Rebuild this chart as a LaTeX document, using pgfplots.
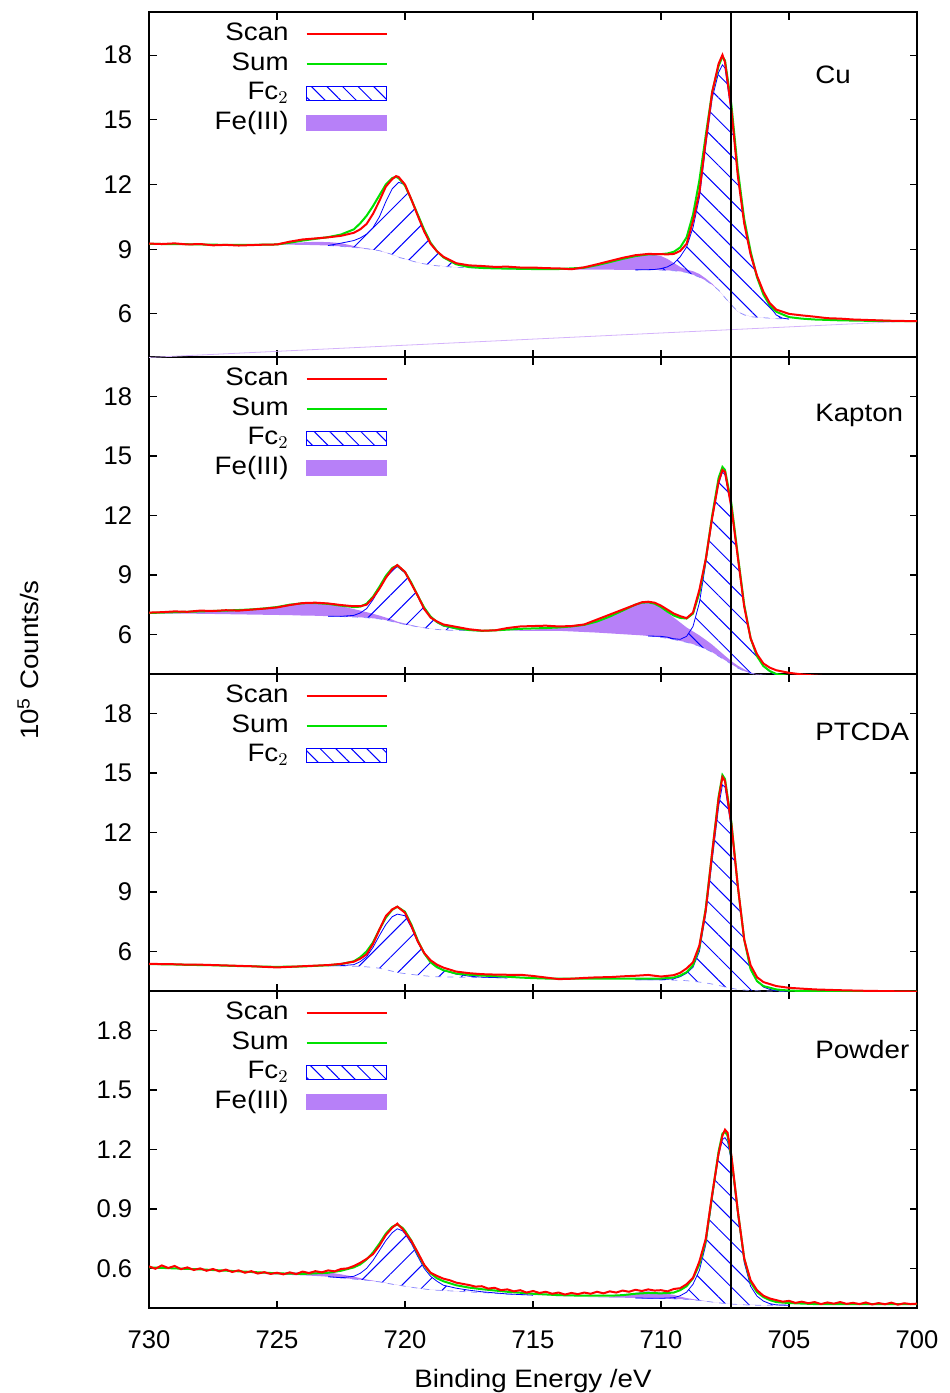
\documentclass[border=0pt]{standalone}
\usepackage{fontspec}
\setmainfont[FakeStretch=1.1]{Liberation Sans}
\newfontfamily\tickfont{Liberation Sans}
\usepackage{pgfplots}
\usepackage{pgfplotstable}
\pgfplotsset{compat=1.18}
\usepgfplotslibrary{fillbetween}
\usetikzlibrary{patterns.meta}
\definecolor{fepurple}{RGB}{183,128,248}
\definecolor{scanred}{RGB}{255,0,0}
\definecolor{sumgreen}{RGB}{0,225,0}
\definecolor{fcblue}{RGB}{0,0,255}

% ---------------- Cu ----------------
\pgfplotstableread{
E scan sum
730.0 9.26 9.25
729.5 9.24 9.24
729.0 9.27 9.24
728.5 9.22 9.23
728.0 9.24 9.22
727.5 9.18 9.21
727.0 9.20 9.20
726.5 9.17 9.20
726.0 9.19 9.20
725.5 9.21 9.21
725.0 9.22 9.22
724.5 9.35 9.30
724.0 9.45 9.40
723.5 9.50 9.48
723.0 9.55 9.56
722.5 9.62 9.68
722.0 9.76 9.92
721.75 9.92 10.20
721.5 10.17 10.55
721.25 10.64 11.00
721.0 11.24 11.50
720.75 11.90 12.00
720.5 12.25 12.30
720.35 12.39 12.35
720.25 12.35 12.30
720.0 12.00 11.95
719.75 11.30 11.30
719.5 10.55 10.60
719.25 9.82 9.90
719.0 9.25 9.30
718.75 8.90 8.90
718.5 8.65 8.62
718.0 8.35 8.30
717.5 8.25 8.17
717.0 8.22 8.13
716.5 8.18 8.11
716.0 8.19 8.10
715.5 8.15 8.09
715.0 8.15 8.08
714.5 8.12 8.08
714.0 8.11 8.08
713.5 8.07 8.11
713.0 8.16 8.14
712.5 8.30 8.26
712.0 8.45 8.40
711.5 8.60 8.55
711.0 8.72 8.68
710.5 8.78 8.76
710.0 8.77 8.77
709.75 8.76 8.80
709.5 8.78 8.88
709.25 8.92 9.08
709.0 9.25 9.55
708.75 10.30 10.60
708.5 11.65 12.20
708.25 14.06 14.30
708.0 16.28 16.30
707.75 17.60 17.50
707.6 18.01 17.93
707.5 17.67 17.75
707.25 15.45 15.70
707.0 12.41 12.70
706.75 10.20 10.40
706.5 8.76 8.90
706.25 7.77 7.70
706.0 7.03 6.90
705.75 6.50 6.40
705.5 6.20 6.10
705.0 6.00 5.85
704.5 5.93 5.78
704.0 5.87 5.74
703.5 5.80 5.72
703.0 5.78 5.70
702.5 5.74 5.69
702.0 5.72 5.68
701.5 5.70 5.67
701.0 5.68 5.67
700.5 5.67 5.66
700.0 5.66 5.66
}\mainCu
\pgfplotstableread{
E bg fe
725.0 9.22 9.22
724.5 9.21 9.28
724.0 9.20 9.32
723.5 9.19 9.34
723.0 9.17 9.33
722.5 9.13 9.28
722.0 9.08 9.15
721.75 9.05 9.08
721.5 9.02 9.04
721.25 8.98 8.99
721.0 8.93 8.94
720.5 8.75 8.75
720.0 8.55 8.55
719.5 8.38 8.38
719.0 8.27 8.27
718.0 8.16 8.16
717.0 8.12 8.12
716.0 8.09 8.09
715.0 8.07 8.07
714.0 8.06 8.09
713.5 8.05 8.12
713.0 8.05 8.16
712.5 8.05 8.25
712.0 8.05 8.38
711.5 8.04 8.52
711.0 8.04 8.66
710.75 8.04 8.72
710.5 8.04 8.75
710.25 8.04 8.74
710.0 8.03 8.68
709.75 8.02 8.55
709.5 8.00 8.36
709.25 7.97 8.18
709.0 7.92 8.05
708.75 7.82 7.98
708.5 7.70 7.85
708.25 7.55 7.64
708.0 7.35 7.40
707.75 7.10 7.10
707.5 6.75 6.75
707.0 6.10 6.10
706.5 5.87 5.87
706.0 5.82 5.82
705.0 5.76 5.76
}\feCu
\pgfplotstableread{
E bg fc
723.0 9.17 9.17
722.5 9.13 9.28
722.0 9.08 9.40
721.75 9.05 9.52
721.5 9.02 9.70
721.25 8.98 10.00
721.0 8.93 10.50
720.75 8.85 11.20
720.5 8.75 11.80
720.25 8.62 12.10
720.0 8.55 12.00
719.75 8.46 11.30
719.5 8.38 10.55
719.25 8.32 9.82
719.0 8.27 9.25
718.75 8.23 8.90
718.5 8.20 8.62
718.0 8.16 8.32
717.5 8.14 8.20
717.0 8.12 8.14
716.0 8.09 8.10
715.0 8.07 8.07
}\fcCuL
\pgfplotstableread{
E bg fc
711.0 8.04 8.04
710.5 8.04 8.05
710.25 8.04 8.06
710.0 8.03 8.10
709.75 8.02 8.18
709.5 8.00 8.34
709.25 7.97 8.65
709.0 7.92 9.10
708.75 7.82 10.00
708.5 7.70 11.40
708.25 7.55 13.80
708.0 7.35 16.00
707.75 7.10 17.20
707.6 6.90 17.55
707.5 6.75 17.40
707.25 6.42 15.30
707.0 6.10 12.40
706.75 5.95 10.20
706.5 5.87 8.70
706.25 5.84 7.70
706.0 5.82 6.95
705.75 5.80 6.35
705.5 5.78 5.95
705.25 5.77 5.80
705.0 5.76 5.76
}\fcCuR

% ---------------- Kapton ----------------
\pgfplotstableread{
E scan sum
730.0 7.10 7.08
729.5 7.12 7.10
729.0 7.16 7.12
728.5 7.14 7.14
728.0 7.20 7.16
727.5 7.18 7.18
727.0 7.22 7.20
726.5 7.20 7.23
726.0 7.25 7.26
725.5 7.30 7.31
725.0 7.36 7.38
724.5 7.48 7.50
724.0 7.58 7.57
723.5 7.60 7.58
723.0 7.56 7.54
722.5 7.48 7.45
722.0 7.42 7.38
721.75 7.42 7.40
721.5 7.50 7.55
721.25 7.85 7.90
721.0 8.30 8.40
720.75 8.85 8.95
720.5 9.30 9.35
720.3 9.50 9.48
720.0 9.15 9.15
719.75 8.55 8.60
719.5 7.95 7.95
719.25 7.28 7.35
719.0 6.85 6.90
718.75 6.65 6.62
718.5 6.50 6.45
718.0 6.38 6.30
717.5 6.26 6.22
717.0 6.19 6.18
716.5 6.20 6.20
716.0 6.32 6.24
715.5 6.40 6.28
715.0 6.42 6.30
714.5 6.44 6.32
714.0 6.40 6.35
713.5 6.42 6.40
713.0 6.50 6.48
712.5 6.75 6.65
712.0 7.00 6.90
711.5 7.25 7.20
711.0 7.50 7.50
710.75 7.62 7.60
710.5 7.65 7.62
710.25 7.60 7.55
710.0 7.45 7.38
709.75 7.25 7.15
709.5 7.05 6.95
709.25 6.92 6.83
709.0 6.82 6.80
708.75 7.10 7.05
708.5 8.25 8.10
708.25 9.80 9.80
708.0 11.90 12.00
707.75 13.70 13.90
707.6 14.30 14.45
707.5 14.20 14.30
707.25 12.40 12.60
707.0 9.90 10.00
706.75 7.40 7.50
706.5 5.80 5.80
706.25 5.00 4.90
706.0 4.53 4.40
705.75 4.32 4.15
705.5 4.19 4.00
705.0 4.06 3.90
704.5 3.98 3.87
704.0 3.92 3.85
703.0 3.85 3.85
702.0 3.80 3.85
701.0 3.78 3.85
700.0 3.76 3.85
}\mainKa
\pgfplotstableread{
E bg fe
730.0 7.06 7.06
729.0 7.05 7.10
728.0 7.04 7.14
727.0 7.02 7.18
726.0 7.00 7.24
725.0 6.98 7.36
724.5 6.97 7.48
724.0 6.95 7.56
723.5 6.94 7.57
723.0 6.92 7.52
722.5 6.90 7.42
722.0 6.88 7.28
721.75 6.86 7.20
721.5 6.84 7.12
721.25 6.81 7.04
721.0 6.78 6.95
720.75 6.72 6.85
720.5 6.65 6.75
720.3 6.58 6.64
720.0 6.50 6.55
719.75 6.44 6.47
719.5 6.38 6.40
719.0 6.28 6.28
718.0 6.20 6.20
717.0 6.18 6.18
716.0 6.18 6.18
715.0 6.18 6.24
714.0 6.18 6.32
713.0 6.12 6.48
712.5 6.09 6.65
712.0 6.05 6.90
711.5 6.01 7.20
711.0 5.97 7.48
710.75 5.95 7.58
710.5 5.92 7.62
710.25 5.89 7.52
710.0 5.85 7.35
709.75 5.80 7.10
709.5 5.74 6.85
709.25 5.67 6.60
709.0 5.60 6.35
708.75 5.51 6.15
708.5 5.40 5.95
708.25 5.26 5.72
708.0 5.10 5.48
707.75 4.90 5.20
707.5 4.70 4.92
707.25 4.50 4.65
707.0 4.30 4.42
706.75 4.15 4.24
706.5 4.03 4.08
706.25 3.97 3.99
706.0 3.94 3.94
705.0 3.90 3.90
}\feKa
\pgfplotstableread{
E bg fc
723.0 6.92 6.92
722.5 6.90 6.91
722.0 6.88 6.96
721.75 6.86 7.08
721.5 6.84 7.30
721.25 6.81 7.75
721.0 6.78 8.30
720.75 6.72 8.85
720.5 6.65 9.25
720.3 6.58 9.42
720.0 6.50 9.10
719.75 6.44 8.55
719.5 6.38 7.90
719.25 6.33 7.28
719.0 6.28 6.85
718.75 6.25 6.60
718.5 6.22 6.42
718.0 6.20 6.28
717.5 6.19 6.21
717.0 6.18 6.18
}\fcKaL
\pgfplotstableread{
E bg fc
710.5 5.92 5.92
710.25 5.89 5.91
710.0 5.85 5.90
709.75 5.80 5.86
709.5 5.74 5.78
709.25 5.67 5.75
709.0 5.60 5.90
708.75 5.51 6.40
708.5 5.40 7.60
708.25 5.26 9.60
708.0 5.10 11.80
707.75 4.90 13.60
707.6 4.78 14.20
707.5 4.70 14.05
707.25 4.50 12.40
707.0 4.30 9.90
706.75 4.15 7.40
706.5 4.03 5.80
706.25 3.97 4.90
706.0 3.94 4.40
705.75 3.92 4.12
705.5 3.91 3.95
705.0 3.90 3.90
}\fcKaR

% ---------------- PTCDA ----------------
\pgfplotstableread{
E scan sum
730.0 5.37 5.36
729.5 5.36 5.35
729.0 5.35 5.34
728.5 5.33 5.32
728.0 5.33 5.31
727.5 5.31 5.30
727.0 5.29 5.28
726.5 5.27 5.26
726.0 5.25 5.25
725.5 5.22 5.23
725.0 5.19 5.22
724.5 5.22 5.23
724.0 5.25 5.24
723.5 5.28 5.27
723.0 5.31 5.30
722.5 5.37 5.36
722.0 5.48 5.50
721.75 5.63 5.70
721.5 5.85 6.00
721.25 6.38 6.45
721.0 7.10 7.10
720.75 7.78 7.70
720.5 8.12 8.10
720.3 8.26 8.25
720.0 7.95 8.00
719.75 7.28 7.35
719.5 6.50 6.55
719.25 5.92 5.90
719.0 5.55 5.45
718.75 5.33 5.20
718.5 5.18 5.05
718.0 4.98 4.88
717.5 4.90 4.82
717.0 4.85 4.78
716.5 4.83 4.75
716.0 4.82 4.72
715.5 4.82 4.68
715.0 4.76 4.65
714.5 4.68 4.63
714.0 4.60 4.62
713.5 4.62 4.62
713.0 4.66 4.62
712.5 4.69 4.62
712.0 4.70 4.62
711.5 4.74 4.62
711.0 4.77 4.62
710.5 4.81 4.62
710.0 4.73 4.63
709.5 4.80 4.68
709.25 4.92 4.78
709.0 5.14 4.95
708.75 5.45 5.30
708.5 6.30 6.20
708.25 8.10 8.20
708.0 11.00 11.00
707.75 13.70 13.80
707.6 14.80 14.90
707.5 14.60 14.70
707.25 12.40 12.50
707.0 9.30 9.30
706.75 6.60 6.60
706.5 5.30 5.10
706.25 4.70 4.50
706.0 4.45 4.25
705.5 4.25 4.08
705.0 4.16 4.02
704.0 4.08 3.99
703.0 4.04 3.98
702.0 4.01 3.97
701.0 3.99 3.97
700.0 3.97 3.97
}\mainPT
\pgfplotstableread{
E bg fc
723.0 5.28 5.28
722.5 5.27 5.28
722.0 5.25 5.33
721.75 5.24 5.48
721.5 5.22 5.73
721.25 5.19 6.20
721.0 5.15 6.80
720.75 5.08 7.35
720.5 5.00 7.75
720.3 4.93 7.88
720.0 4.88 7.80
719.75 4.84 7.20
719.5 4.80 6.45
719.25 4.77 5.88
719.0 4.74 5.50
718.75 4.72 5.25
718.5 4.71 5.05
718.0 4.70 4.85
717.5 4.69 4.75
717.0 4.68 4.70
716.0 4.66 4.66
}\fcPTL
\pgfplotstableread{
E bg fc
711.0 4.57 4.57
710.0 4.56 4.57
709.5 4.55 4.62
709.25 4.54 4.72
709.0 4.52 4.90
708.75 4.49 5.20
708.5 4.45 6.00
708.25 4.41 7.90
708.0 4.35 10.60
707.75 4.28 13.30
707.6 4.24 14.40
707.5 4.20 14.30
707.25 4.14 12.20
707.0 4.08 9.30
706.75 4.05 6.60
706.5 4.02 5.10
706.25 4.01 4.50
706.0 4.00 4.20
705.75 4.00 4.08
705.5 3.99 4.02
705.0 3.98 3.98
}\fcPTR

% ---------------- Powder ----------------
\pgfplotstableread{
E scan
730.0 0.610
729.75 0.598
729.5 0.615
729.25 0.602
729.0 0.612
728.75 0.596
728.5 0.605
728.25 0.592
728.0 0.600
727.75 0.588
727.5 0.597
727.25 0.585
727.0 0.594
726.75 0.582
726.5 0.590
726.25 0.578
726.0 0.586
725.75 0.574
725.5 0.581
725.25 0.572
725.0 0.578
724.75 0.570
724.5 0.580
724.25 0.571
724.0 0.584
723.75 0.576
723.5 0.586
723.25 0.580
723.0 0.590
722.75 0.585
722.5 0.597
722.25 0.600
722.0 0.612
721.75 0.628
721.5 0.648
721.25 0.672
721.0 0.715
720.75 0.768
720.5 0.805
720.3 0.826
720.25 0.818
720.1 0.800
720.0 0.782
719.75 0.738
719.5 0.680
719.25 0.618
719.0 0.578
718.75 0.562
718.5 0.548
718.25 0.540
718.0 0.528
717.75 0.522
717.5 0.516
717.25 0.508
717.0 0.510
716.75 0.498
716.5 0.502
716.25 0.490
716.0 0.494
715.75 0.484
715.5 0.490
715.25 0.478
715.0 0.486
714.75 0.476
714.5 0.482
714.25 0.472
714.0 0.478
713.75 0.468
713.5 0.476
713.25 0.470
713.0 0.478
712.75 0.472
712.5 0.482
712.25 0.474
712.0 0.484
711.75 0.478
711.5 0.488
711.25 0.482
711.0 0.492
710.75 0.486
710.5 0.494
710.25 0.488
710.0 0.490
709.75 0.484
709.5 0.496
709.25 0.500
709.0 0.520
708.75 0.552
708.5 0.635
708.25 0.750
708.0 0.975
707.75 1.180
707.6 1.270
707.5 1.300
707.4 1.285
707.25 1.170
707.0 0.890
706.75 0.650
706.5 0.540
706.25 0.490
706.0 0.462
705.75 0.448
705.5 0.440
705.25 0.432
705.0 0.436
704.75 0.426
704.5 0.432
704.25 0.424
704.0 0.430
703.75 0.420
703.5 0.428
703.25 0.422
703.0 0.430
702.75 0.421
702.5 0.426
702.25 0.420
702.0 0.428
701.75 0.418
701.5 0.425
701.25 0.419
701.0 0.427
700.75 0.417
700.5 0.424
700.25 0.420
700.0 0.422
}\scanPo
\pgfplotstableread{
E sum
730.0 0.605
728.0 0.595
726.0 0.582
725.0 0.575
724.0 0.572
723.0 0.578
722.5 0.588
722.0 0.605
721.75 0.620
721.5 0.645
721.25 0.680
721.0 0.725
720.75 0.775
720.5 0.810
720.3 0.822
720.1 0.805
720.0 0.790
719.75 0.740
719.5 0.675
719.25 0.615
719.0 0.575
718.75 0.550
718.5 0.535
718.0 0.515
717.5 0.503
717.0 0.495
716.0 0.482
715.0 0.472
714.0 0.465
713.0 0.462
712.0 0.462
711.5 0.465
711.0 0.472
710.5 0.476
710.0 0.474
709.5 0.478
709.25 0.490
709.0 0.510
708.75 0.550
708.5 0.620
708.25 0.740
708.0 0.970
707.75 1.190
707.6 1.280
707.5 1.290
707.4 1.270
707.25 1.160
707.0 0.890
706.75 0.650
706.5 0.530
706.25 0.480
706.0 0.455
705.75 0.440
705.5 0.430
705.0 0.425
704.0 0.420
702.0 0.420
700.0 0.420
}\sumPo
\pgfplotstableread{
E bg fe
726.0 0.575 0.575
725.5 0.572 0.574
725.0 0.570 0.576
724.5 0.567 0.578
724.0 0.565 0.582
723.5 0.562 0.584
723.0 0.558 0.580
722.5 0.552 0.570
722.0 0.546 0.558
721.5 0.540 0.544
721.0 0.532 0.533
720.0 0.510 0.510
719.0 0.492 0.492
718.0 0.485 0.485
717.0 0.478 0.478
716.0 0.470 0.470
715.0 0.465 0.465
714.0 0.460 0.460
713.0 0.456 0.456
712.0 0.453 0.456
711.5 0.452 0.464
711.0 0.451 0.476
710.75 0.450 0.482
710.5 0.449 0.484
710.0 0.448 0.478
709.5 0.446 0.466
709.25 0.445 0.458
709.0 0.443 0.450
708.75 0.441 0.445
708.5 0.438 0.440
708.0 0.430 0.430
707.0 0.418 0.418
706.0 0.414 0.414
705.0 0.414 0.414
}\fePo
\pgfplotstableread{
E bg fc
723.0 0.558 0.558
722.5 0.552 0.553
722.0 0.546 0.560
721.75 0.543 0.575
721.5 0.540 0.600
721.25 0.536 0.640
721.0 0.532 0.690
720.75 0.526 0.740
720.5 0.520 0.780
720.3 0.515 0.800
720.1 0.512 0.790
720.0 0.510 0.775
719.75 0.505 0.725
719.5 0.500 0.660
719.25 0.496 0.600
719.0 0.492 0.560
718.75 0.490 0.535
718.5 0.488 0.515
718.0 0.485 0.500
717.5 0.481 0.490
717.0 0.478 0.482
716.0 0.470 0.471
715.0 0.465 0.465
}\fcPoL
\pgfplotstableread{
E bg fc
711.0 0.451 0.451
710.5 0.449 0.449
710.0 0.448 0.449
709.5 0.446 0.452
709.25 0.445 0.462
709.0 0.443 0.480
708.75 0.441 0.520
708.5 0.438 0.590
708.25 0.434 0.720
708.0 0.430 0.950
707.75 0.426 1.170
707.6 0.424 1.250
707.5 0.423 1.260
707.4 0.422 1.240
707.25 0.420 1.140
707.0 0.418 0.870
706.75 0.416 0.630
706.5 0.415 0.510
706.25 0.414 0.460
706.0 0.414 0.435
705.75 0.414 0.422
705.5 0.414 0.416
705.0 0.414 0.414
}\fcPoR

\pgfplotsset{
  panel/.style={
    scale only axis, width=384pt,
    xmin=700, xmax=730, x dir=reverse,
    xtick={700,705,710,715,720,725,730},
    tick align=inside, major tick length=3.75pt,
    axis line style={line width=0.8pt},
    every tick/.style={black, line width=0.6pt},
    /pgf/number format/assume math mode=true,
    tick label style={font=\tickfont\fontsize{12.8}{15}\selectfont},
    yticklabel style={xshift=-4.9pt},
    xticklabel style={yshift=-7.7pt},
    legend plot pos=right, legend cell align=right,
    legend style={draw=none, fill=none, at={(0.3086,1)}, anchor=north east,
      xshift=1pt, yshift=-4.75pt, inner sep=0pt, row sep=2.25pt, column sep=8.5pt,
      font=\fontsize{12.6}{15}\selectfont,
      nodes={inner sep=0pt, text height=9.5pt, text depth=3pt}},
  },
  scanleg/.style={legend image code/.code={\draw[scanred,line width=1pt] (0pt,0pt) -- (40pt,0pt);}},
  sumleg/.style={legend image code/.code={\draw[sumgreen,line width=1pt] (0pt,0pt) -- (40pt,0pt);}},
  fcleg/.style={legend image code/.code={\draw[fcblue,line width=0.6pt,pattern={Lines[angle=-45,distance=5.5pt,line width=0.5pt]},pattern color=fcblue] (0pt,-3.5pt) rectangle (40pt,3.5pt);}},
  feleg/.style={legend image code/.code={\fill[fepurple] (0pt,-3.75pt) rectangle (40pt,3.75pt);}},
  hatchL/.style={pattern={Lines[angle=45,distance=8pt,line width=0.5pt]}, pattern color=fcblue, draw=none, forget plot},
  hatchR/.style={pattern={Lines[angle=-45,distance=8pt,line width=0.5pt]}, pattern color=fcblue, draw=none, forget plot},
}

\begin{document}
\begin{tikzpicture}[font=\fontsize{12.6}{15}\selectfont]

% ===== Cu =====
\begin{axis}[panel, at={(0pt,0pt)}, anchor=north west, height=172.5pt,
  ymin=4, ymax=20, ytick={6,9,12,15,18}, xticklabels={}]
\addlegendimage{scanleg}\addlegendentry{Scan}
\addlegendimage{sumleg}\addlegendentry{Sum}
\addlegendimage{fcleg}\addlegendentry{Fc$_2$}
\addlegendimage{feleg}\addlegendentry{Fe(III)}
\addplot[fepurple!60, line width=0.4pt, forget plot] coordinates {(730,3.98) (700,5.68)};
\addplot[name path=febgA, draw=none, forget plot] table[x=E,y=bg]{\feCu};
\addplot[name path=feA, draw=none, forget plot] table[x=E,y=fe]{\feCu};
\addplot[fill=fepurple, draw=none, forget plot] fill between[of=feA and febgA];
\addplot[name path=bgAL, fcblue!45, line width=0.35pt, dashed, forget plot] table[x=E,y=bg]{\fcCuL};
\addplot[name path=fcAL, fcblue, line width=0.4pt, forget plot] table[x=E,y=fc]{\fcCuL};
\addplot[hatchL] fill between[of=fcAL and bgAL];
\addplot[name path=bgAR, fcblue!45, line width=0.35pt, dashed, forget plot] table[x=E,y=bg]{\fcCuR};
\addplot[name path=fcAR, fcblue, line width=0.4pt, forget plot] table[x=E,y=fc]{\fcCuR};
\addplot[hatchR] fill between[of=fcAR and bgAR];
\addplot[sumgreen, line width=1pt, forget plot] table[x=E,y=sum]{\mainCu};
\addplot[scanred, line width=1pt, forget plot] table[x=E,y=scan]{\mainCu};
\addplot[black, line width=0.7pt, forget plot] coordinates {(707.27,4) (707.27,20)};
\node[anchor=west, inner sep=0pt] at (rel axis cs:0.867,0.817) {Cu};
\end{axis}

% ===== Kapton =====
\begin{axis}[panel, at={(0pt,-172.5pt)}, anchor=north west, height=158.5pt,
  ymin=4, ymax=20, ytick={6,9,12,15,18}, xticklabels={}]
\addlegendimage{scanleg}\addlegendentry{Scan}
\addlegendimage{sumleg}\addlegendentry{Sum}
\addlegendimage{fcleg}\addlegendentry{Fc$_2$}
\addlegendimage{feleg}\addlegendentry{Fe(III)}
\addplot[name path=febgB, draw=none, forget plot] table[x=E,y=bg]{\feKa};
\addplot[name path=feB, draw=none, forget plot] table[x=E,y=fe]{\feKa};
\addplot[fill=fepurple, draw=none, forget plot] fill between[of=feB and febgB];
\addplot[name path=bgBL, fcblue!45, line width=0.35pt, dashed, forget plot] table[x=E,y=bg]{\fcKaL};
\addplot[name path=fcBL, fcblue, line width=0.4pt, forget plot] table[x=E,y=fc]{\fcKaL};
\addplot[hatchL] fill between[of=fcBL and bgBL];
\addplot[name path=bgBR, fcblue!45, line width=0.35pt, dashed, forget plot] table[x=E,y=bg]{\fcKaR};
\addplot[name path=fcBR, fcblue, line width=0.4pt, forget plot] table[x=E,y=fc]{\fcKaR};
\addplot[hatchR] fill between[of=fcBR and bgBR];
\addplot[sumgreen, line width=1pt, forget plot] table[x=E,y=sum]{\mainKa};
\addplot[scanred, line width=1pt, forget plot] table[x=E,y=scan]{\mainKa};
\addplot[black, line width=0.7pt, forget plot] coordinates {(707.27,4) (707.27,20)};
\node[anchor=west, inner sep=0pt] at (rel axis cs:0.867,0.817) {Kapton};
\end{axis}

% ===== PTCDA =====
\begin{axis}[panel, at={(0pt,-331pt)}, anchor=north west, height=158.5pt,
  ymin=4, ymax=20, ytick={6,9,12,15,18}, xticklabels={}]
\addlegendimage{scanleg}\addlegendentry{Scan}
\addlegendimage{sumleg}\addlegendentry{Sum}
\addlegendimage{fcleg}\addlegendentry{Fc$_2$}
\addplot[name path=bgCL, fcblue!45, line width=0.35pt, dashed, forget plot] table[x=E,y=bg]{\fcPTL};
\addplot[name path=fcCL, fcblue, line width=0.4pt, forget plot] table[x=E,y=fc]{\fcPTL};
\addplot[hatchL] fill between[of=fcCL and bgCL];
\addplot[name path=bgCR, fcblue!45, line width=0.35pt, dashed, forget plot] table[x=E,y=bg]{\fcPTR};
\addplot[name path=fcCR, fcblue, line width=0.4pt, forget plot] table[x=E,y=fc]{\fcPTR};
\addplot[hatchR] fill between[of=fcCR and bgCR];
\addplot[sumgreen, line width=1pt, forget plot] table[x=E,y=sum]{\mainPT};
\addplot[scanred, line width=1pt, forget plot] table[x=E,y=scan]{\mainPT};
\addplot[black, line width=0.7pt, forget plot] coordinates {(707.27,4) (707.27,20)};
\node[anchor=west, inner sep=0pt] at (rel axis cs:0.867,0.817) {PTCDA};
\end{axis}

% ===== Powder =====
\begin{axis}[panel, at={(0pt,-489.5pt)}, anchor=north west, height=158.5pt,
  ymin=0.4, ymax=2.0, ytick={0.6,0.9,1.2,1.5,1.8},
  yticklabel style={/pgf/number format/.cd, fixed, fixed zerofill, precision=1}]
\addlegendimage{scanleg}\addlegendentry{Scan}
\addlegendimage{sumleg}\addlegendentry{Sum}
\addlegendimage{fcleg}\addlegendentry{Fc$_2$}
\addlegendimage{feleg}\addlegendentry{Fe(III)}
\addplot[name path=febgD, draw=none, forget plot] table[x=E,y=bg]{\fePo};
\addplot[name path=feD, draw=none, forget plot] table[x=E,y=fe]{\fePo};
\addplot[fill=fepurple, draw=none, forget plot] fill between[of=feD and febgD];
\addplot[name path=bgDL, fcblue!45, line width=0.35pt, dashed, forget plot] table[x=E,y=bg]{\fcPoL};
\addplot[name path=fcDL, fcblue, line width=0.4pt, forget plot] table[x=E,y=fc]{\fcPoL};
\addplot[hatchL] fill between[of=fcDL and bgDL];
\addplot[name path=bgDR, fcblue!45, line width=0.35pt, dashed, forget plot] table[x=E,y=bg]{\fcPoR};
\addplot[name path=fcDR, fcblue, line width=0.4pt, forget plot] table[x=E,y=fc]{\fcPoR};
\addplot[hatchR] fill between[of=fcDR and bgDR];
\addplot[sumgreen, line width=1pt, forget plot] table[x=E,y=sum]{\sumPo};
\addplot[scanred, line width=1pt, forget plot] table[x=E,y=scan]{\scanPo};
\addplot[black, line width=0.7pt, forget plot] coordinates {(707.27,0.4) (707.27,2.0)};
\node[anchor=west, inner sep=0pt] at (rel axis cs:0.867,0.817) {Powder};
\end{axis}

\node[anchor=base, inner sep=0pt] at (192pt,-687.5pt) {Binding Energy /eV};
\node[rotate=90, inner sep=0pt] at (-60.5pt,-324pt) {10\textsuperscript{5} Counts/s};
\path (-74.5pt,6pt) rectangle (400pt,-690.5pt);
\end{tikzpicture}
\end{document}
